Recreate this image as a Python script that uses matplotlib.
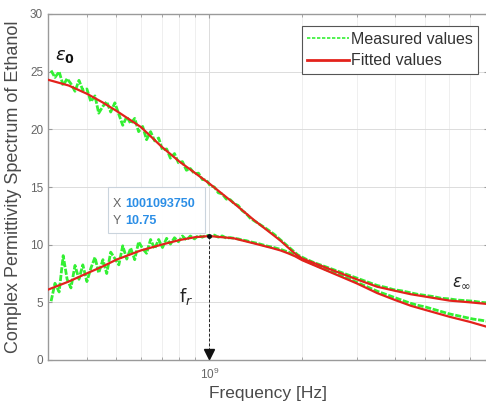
import matplotlib
matplotlib.use("Agg")
import matplotlib.pyplot as plt
import numpy as np
from matplotlib.ticker import LogLocator, NullFormatter
from matplotlib.patches import Rectangle

plt.rcParams['font.family'] = ['Liberation Sans', 'DejaVu Sans']
plt.rcParams['mathtext.fontset'] = 'dejavusans'

# ---------------- data ----------------
# fitted model (GHz)
fit_freq_ghz = [0.30, 0.35, 0.40, 0.45, 0.50, 0.60, 0.70, 0.80, 0.90, 1.00,
                1.20, 1.40, 1.60, 1.70, 1.80, 1.90, 2.00, 2.50, 3.00, 3.50,
                4.00, 4.50, 5.00, 6.00, 7.00, 8.00]
fit_real = [24.3, 23.8, 23.1, 22.35, 21.6, 20.2, 18.5, 17.2, 16.2, 15.3,
            13.6, 12.1, 10.9, 10.35, 9.75, 9.2, 8.8, 7.8, 7.0, 6.35,
            6.0, 5.7, 5.5, 5.15, 5.0, 4.85]
fit_imag = [6.1, 6.8, 7.5, 8.1, 8.7, 9.5, 10.0, 10.4, 10.65, 10.75,
            10.55, 10.1, 9.7, 9.5, 9.25, 8.98, 8.65, 7.55, 6.65, 5.8,
            5.2, 4.7, 4.35, 3.75, 3.3, 2.85]

# measured values (GHz)
meas_freq_ghz = [0.307, 0.316, 0.326, 0.336, 0.346, 0.356, 0.367, 0.378, 0.389, 0.401,
                 0.413, 0.426, 0.438, 0.452, 0.465, 0.479, 0.494, 0.509, 0.524, 0.540,
                 0.556, 0.573, 0.590, 0.608, 0.626, 0.645, 0.665, 0.685, 0.705, 0.727,
                 0.748, 0.771, 0.794, 0.818, 0.843, 0.868, 0.895, 0.922, 0.949, 0.978,
                 1.007, 1.038, 1.069, 1.101, 1.135, 1.169, 1.204, 1.240, 1.278, 1.316,
                 1.356, 1.439, 1.527, 1.621, 1.720, 1.825, 1.937, 2.055, 2.181, 2.315,
                 2.457, 2.607, 2.767, 2.936, 3.116, 3.307, 3.510, 3.724, 3.953, 4.195,
                 4.451, 4.724, 5.012, 5.319, 5.645, 5.991, 6.357, 6.745, 7.158, 7.596,
                 8.000]
meas_real = [25.1, 24.5, 25.0, 23.8, 24.4, 23.95, 23.3, 24.25, 23.4, 23.5,
             22.4, 22.9, 21.4, 22.0, 22.4, 21.5, 22.3, 21.3, 20.35, 21.1,
             20.5, 20.95, 19.8, 20.25, 19.1, 19.8, 19.0, 19.25, 18.2, 18.3,
             17.5, 17.9, 17.1, 17.2, 16.45, 16.6, 16.15, 16.2, 15.65, 15.6,
             15.1, 15.0, 14.5, 14.4, 13.95, 13.9, 13.55, 13.4, 12.95, 12.7,
             12.3, 11.85, 11.4, 10.9, 10.3, 9.7, 9.1, 8.75, 8.45, 8.2,
             7.95, 7.7, 7.45, 7.2, 6.95, 6.7, 6.45, 6.3, 6.1, 6.0,
             5.85, 5.7, 5.6, 5.5, 5.35, 5.3, 5.2, 5.15, 5.1, 5.0,
             4.95]
meas_imag = [5.1, 6.65, 5.9, 9.05, 7.0, 6.25, 8.2, 7.0, 8.25, 6.8,
             7.95, 8.9, 7.55, 8.7, 7.5, 9.35, 8.8, 8.25, 9.9, 8.75,
             9.7, 8.7, 10.25, 9.65, 9.25, 10.45, 9.65, 10.45, 9.75, 10.55,
             10.05, 10.6, 10.25, 10.75, 10.4, 10.75, 10.5, 10.8, 10.65, 10.82,
             10.7, 10.83, 10.65, 10.76, 10.57, 10.61, 10.55, 10.5, 10.4, 10.35,
             10.25, 10.1, 9.9, 9.75, 9.55, 9.3, 8.95, 8.6, 8.3, 8.0,
             7.7, 7.45, 7.15, 6.85, 6.55, 6.25, 5.95, 5.7, 5.45, 5.2,
             4.95, 4.75, 4.6, 4.4, 4.2, 4.0, 3.85, 3.7, 3.55, 3.45,
             3.35]

peak_freq_hz = 1001093750
peak_value = 10.75

x_min_hz = 3.0e8
x_max_hz = 8.0e9
y_ticks = [0, 5, 10, 15, 20, 25, 30]

# ---------------- plot ----------------
fit_f = np.array(fit_freq_ghz) * 1e9
meas_f = np.array(meas_freq_ghz) * 1e9

fig = plt.figure(figsize=(4.86, 4.07), dpi=100)
ax = fig.add_axes([48/486, 47/407, 440/486, 346/407])

green = '#33f033'
red = '#e3221c'
ax.plot(meas_f, meas_real, color=green, lw=2.0, ls=(0, (2.2, 0.6)), zorder=3,
        label='Measured values')
ax.plot(meas_f, meas_imag, color=green, lw=2.0, ls=(0, (2.2, 0.6)), zorder=3)
ax.plot(fit_f, fit_real, '-', color=red, lw=1.6, zorder=4, label='Fitted values')
ax.plot(fit_f, fit_imag, '-', color=red, lw=1.6, zorder=4)

ax.set_xscale('log')
ax.set_xlim(x_min_hz, x_max_hz)
ax.set_ylim(0, 30)
ax.set_yticks(y_ticks)
ax.xaxis.set_major_locator(LogLocator(base=10, numticks=10))
ax.xaxis.set_minor_locator(LogLocator(base=10, subs=np.arange(2, 10), numticks=20))
ax.xaxis.set_minor_formatter(NullFormatter())

ax.grid(True, which='major', color='#dcdcdc', lw=0.7)
ax.grid(True, which='minor', axis='x', color='#ececec', lw=0.6)
ax.set_axisbelow(True)

for s in ['left', 'bottom', 'top', 'right']:
    ax.spines[s].set_color('#9a9a9a')
    ax.spines[s].set_linewidth(1.0)
ax.tick_params(which='both', direction='in', colors='#9a9a9a', labelcolor='#666666',
               labelsize=8.5, top=True, right=True)
ax.tick_params(which='major', length=3)
ax.tick_params(which='minor', length=2)
ax.tick_params(axis='x', pad=5)

ax.set_xlabel('Frequency [Hz]', fontsize=12.5, color='#4a4a4a', labelpad=3)
ax.set_ylabel('Complex Permittivity Spectrum of Ethanol', fontsize=13,
              color='#4a4a4a', labelpad=6)

leg = ax.legend(loc='upper right', bbox_to_anchor=(430/440, 1 - 12/346),
                fontsize=11.5, frameon=True, fancybox=False, handlelength=2.6,
                handletextpad=0.1, borderpad=0.35, labelspacing=0.42,
                borderaxespad=0, framealpha=1)
leg.get_frame().set_edgecolor('#555555')
leg.get_frame().set_linewidth(0.8)
for t in leg.get_texts():
    t.set_color('#333333')
leg.get_lines()[0].set_linestyle((0, (2.0, 1.0)))
leg.get_lines()[0].set_linewidth(1.2)
leg.get_lines()[1].set_linewidth(2.0)

# datatip marker and guide
ax.plot([peak_freq_hz, peak_freq_hz], [peak_value, 0.6], color='#222222', lw=0.7,
        ls=(0, (3, 2)), zorder=5)
ax.plot([peak_freq_hz], [peak_value], 'o', color='#111111', ms=2.5, zorder=6)
ax.plot([peak_freq_hz], [0.55], 'v', color='#111111', ms=7, zorder=6, clip_on=False)

# datatip box
ax.add_patch(Rectangle((0.468e9, 11.0), 0.97e9 - 0.468e9, 4.0, facecolor='white',
                       edgecolor='#c8d2dc', lw=0.8, zorder=6.5, alpha=0.95))
ax.text(0.487e9, 13.25, 'X', fontsize=9, color='#666666', zorder=7)
ax.text(0.535e9, 13.25, f'{peak_freq_hz}', fontsize=9, color='#2b8ee6',
        fontweight='bold', zorder=7)
ax.text(0.487e9, 11.75, 'Y', fontsize=9, color='#666666', zorder=7)
ax.text(0.535e9, 11.75, f'{peak_value}', fontsize=9, color='#2b8ee6',
        fontweight='bold', zorder=7)

# annotations
ax.text(0.315e9, 26.0, r'$\epsilon_\mathbf{0}$', fontsize=13, color='#111111')
ax.text(0.80e9, 5.0, r'$\mathrm{f}_r$', fontsize=13, color='#222222')
ax.text(6.1e9, 6.4, r'$\epsilon_\infty$', fontsize=12, color='#222222')

fig.savefig('out.png', dpi=100)
